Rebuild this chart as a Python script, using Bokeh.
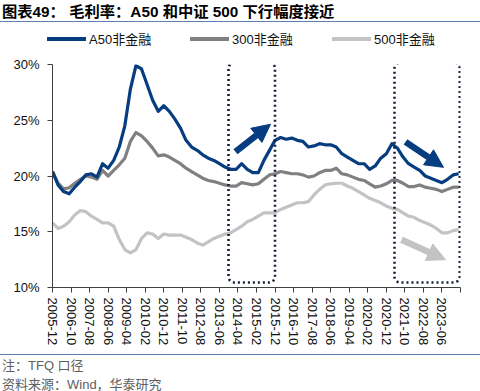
import pandas as pd
from bokeh.plotting import figure
from bokeh.layouts import column
from bokeh.models import (Range1d, FixedTicker, Arrow, NormalHead,
                          BoxAnnotation, ColumnDataSource, Div)
from bokeh.embed import file_html
from bokeh.resources import INLINE

# ---------------- data ----------------
dates = pd.date_range("2005-12-31", periods=74, freq="QE")
a50 = [20.4, 19.2, 18.6, 18.4, 19.0, 19.5, 20.1, 20.2, 19.9, 21.1,
       20.7, 21.4, 22.6, 24.5, 27.8, 29.9, 29.6, 28.2, 26.8, 25.8,
       26.3, 25.8, 25.1, 24.3, 23.2, 22.6, 22.3, 21.9, 21.6, 21.4,
       21.1, 20.8, 20.6, 20.6, 21.1, 20.6, 20.3, 20.3, 21.4, 22.3,
       23.2, 23.45, 23.3, 23.4, 23.2, 23.1, 22.6, 22.7, 22.9, 22.8,
       22.8, 22.6, 22.0, 21.7, 21.4, 21.1, 21.1, 20.6, 20.9, 21.6,
       22.0, 22.9, 22.5, 21.7, 21.1, 20.8, 20.5, 20.0, 19.8, 19.6,
       19.4, 19.7, 20.1, 20.2]
csi300 = [20.4, 19.35, 18.85, 18.95, 19.35, 19.7, 20.0, 19.9, 19.7, 20.5,
          20.0, 20.5, 21.0, 21.6, 23.1, 23.9, 23.6, 23.1, 22.5, 21.8,
          21.9, 21.7, 21.4, 21.1, 20.7, 20.4, 20.1, 19.8, 19.6, 19.5,
          19.35, 19.2, 19.1, 19.1, 19.4, 19.3, 19.2, 19.3, 19.7, 20.1,
          20.2, 20.4, 20.3, 20.2, 20.2, 20.1, 19.9, 20.0, 20.3, 20.5,
          20.5, 20.7, 20.2, 20.1, 19.9, 19.7, 19.6, 19.3, 19.0, 19.1,
          19.3, 19.6, 19.6, 19.35, 19.05, 19.05, 19.2, 19.0, 18.9, 18.8,
          18.6, 18.8, 19.0, 19.0]
csi500 = [15.8, 15.3, 15.5, 15.9, 16.5, 16.9, 16.8, 16.4, 16.1, 15.8,
          15.8, 15.5, 14.3, 13.4, 13.1, 13.4, 14.4, 14.9, 14.8, 14.4,
          14.8, 14.7, 14.7, 14.7, 14.5, 14.3, 14.0, 13.8, 14.1, 14.4,
          14.6, 14.8, 14.9, 15.2, 15.5, 15.9, 16.1, 16.4, 16.7, 16.7,
          16.7, 17.0, 17.2, 17.4, 17.6, 17.6, 17.7, 18.3, 18.8, 19.2,
          19.3, 19.35, 19.35, 19.1, 18.9, 18.6, 18.3, 18.0, 17.8, 17.6,
          17.3, 17.1, 17.0, 16.7, 16.4, 16.3, 16.0, 15.8, 15.6, 15.3,
          14.9, 14.9, 15.1, 15.2]
series_names = ["A50非金融", "300非金融", "500非金融"]
x_tick_labels = ["2005-12", "2006-10", "2007-08", "2008-06", "2009-04",
                 "2010-02", "2010-12", "2011-10", "2012-08", "2013-06",
                 "2014-04", "2015-02", "2015-12", "2016-10", "2017-08",
                 "2018-06", "2019-04", "2020-02", "2020-12", "2021-10",
                 "2022-08", "2023-06", ""]
y_ticks = [10, 15, 20, 25, 30]
y_tick_labels = ["10%", "15%", "20%", "25%", "30%"]
title_text = "图表49： 毛利率：A50 和中证 500 下行幅度接近"
note_text = "注：TFQ 口径"
source_text = "资料来源：Wind，华泰研究"

# ---------------- helpers ----------------
start = pd.Timestamp("2005-12-01")
def month_index(ts):
    return (ts.year - start.year) * 12 + (ts.month - start.month)

months = [month_index(d) for d in dates]
x_ticks = [i * 10 for i in range(len(x_tick_labels))]

W, H = 480, 391
HEAD_H, FOOT_Y = 50, 348          # page px: header bottom, footer top
X_MAX = 220
FL, FR, FT, FB = 52, 460, 64, 288   # main frame in page px
def dx(px):
    return (px - FL) * X_MAX / (FR - FL)
def dy(py):
    return 30 - (py - FT) * 20 / (FB - FT)

C_A50 = "#063C80"
C_300 = "#808080"
C_500 = "#C3C3C3"
C_BOX = "#14213D"
C_RULE = "#5F7FB2"
FONT = "'Liberation Sans', 'Noto Sans CJK SC', sans-serif"

def abs_text(left, center_y, text, size, lh, color, bold=False):
    top = center_y - lh / 2
    weight = "bold" if bold else "normal"
    return (f'<div style="position:absolute;left:{left}px;top:{top}px;'
            f'font-size:{size}px;line-height:{lh}px;font-weight:{weight};'
            f'color:{color};white-space:nowrap;">{text}</div>')

def abs_bar(left, top, width, height, color):
    return (f'<div style="position:absolute;left:{left}px;top:{top}px;'
            f'width:{width}px;height:{height}px;background:{color};"></div>')

def wrap(inner, h):
    return (f'<div style="position:relative;width:{W}px;height:{h}px;'
            f'overflow:hidden;font-family:{FONT};margin:0;padding:0;">{inner}</div>')

# ---------------- header ----------------
head_html = abs_text(2, 11.5, title_text, 15.3, 18, "#000000", bold=True)
head_html += abs_bar(0, 21, W, 1.3, C_RULE)
for (l0, l1, tx), name, col in zip(((46.7, 86, 89), (190, 229, 232), (332, 371, 374)),
                                   series_names, (C_A50, C_300, C_500)):
    head_html += abs_bar(l0, 37.3, l1 - l0, 4, col)
    head_html += abs_text(tx, 39.5, name, 13, 16, "#111111")
head = Div(text=wrap(head_html, HEAD_H), width=W, height=HEAD_H, margin=0)

# ---------------- main chart ----------------
p = figure(width=W, height=FOOT_Y - HEAD_H, output_backend="svg", toolbar_location=None,
           x_range=Range1d(0, X_MAX), y_range=Range1d(10, 30),
           min_border_left=FL, min_border_right=W - FR,
           min_border_top=FT - HEAD_H, min_border_bottom=FOOT_Y - FB)
p.outline_line_color = None
p.xgrid.visible = False
p.ygrid.visible = False

src = ColumnDataSource(dict(m=months, a50=a50, s300=csi300, s500=csi500))
p.line("m", "s500", source=src, line_color=C_500, line_width=3.2, line_join="round")
p.line("m", "s300", source=src, line_color=C_300, line_width=3.2, line_join="round")
p.line("m", "a50", source=src, line_color=C_A50, line_width=3.2, line_join="round")

for ax in (p.xaxis[0], p.yaxis[0]):
    ax.axis_line_color = "#404040"
    ax.major_tick_line_color = "#404040"
    ax.minor_tick_line_color = None
    ax.major_tick_in = 0
    ax.major_tick_out = 5
    ax.major_label_text_font = FONT
    ax.major_label_text_font_size = "13px"
    ax.major_label_text_color = "#111111"

p.yaxis.ticker = FixedTicker(ticks=y_ticks)
p.yaxis.major_label_overrides = {t: l for t, l in zip(y_ticks, y_tick_labels)}
p.yaxis.major_label_standoff = 8
p.xaxis.ticker = FixedTicker(ticks=x_ticks)
p.xaxis.major_label_overrides = {t: l for t, l in zip(x_ticks, x_tick_labels)}
p.xaxis.major_label_orientation = "vertical"
p.xaxis.major_label_standoff = 5

for l, r in ((228, 274.5), (394, 459.3)):
    p.add_layout(BoxAnnotation(left=dx(l), right=dx(r), top=dy(62), bottom=dy(283),
                               fill_alpha=0, line_alpha=1.0, line_color=C_BOX,
                               line_width=2.6, line_dash="2 3", border_radius=6))

def arrow(x0, y0, x1, y1, color):
    p.add_layout(Arrow(x_start=dx(x0), y_start=dy(y0), x_end=dx(x1), y_end=dy(y1),
                       line_color=color, line_width=6.5,
                       end=NormalHead(size=18, fill_color=color, line_color=color)))
arrow(235, 151.7, 270, 124, C_A50)
arrow(405, 141.7, 443, 167.3, C_A50)
arrow(401, 240, 445, 260, C_500)

# ---------------- footer ----------------
FOOT_H = H - FOOT_Y
foot_html = abs_bar(0, 354 - FOOT_Y - 0.5, W, 1.3, C_RULE)
foot_html += abs_text(2, 366 - FOOT_Y, note_text, 13, 16, "#606060")
foot_html += abs_text(2, 385 - FOOT_Y, source_text, 13, 16, "#606060")
foot = Div(text=wrap(foot_html, FOOT_H), width=W, height=FOOT_H, margin=0)

layout = column(head, p, foot, spacing=0)
open("out.html", "w").write(file_html(layout, INLINE))
